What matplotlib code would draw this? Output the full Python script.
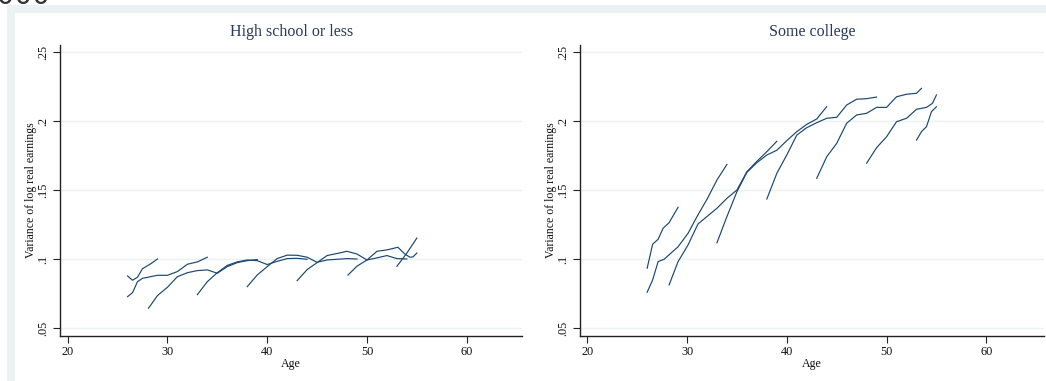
import matplotlib
matplotlib.use("Agg")
import matplotlib.pyplot as plt
from matplotlib.patches import Rectangle
from matplotlib.ticker import FixedLocator, FixedFormatter

# --- High school or less: one line per cohort (age, variance of log earnings)
HS_AGE_1 = [26, 26.5, 27, 27.5, 28.25, 29]
HS_VAR_1 = [0.0879, 0.0848, 0.0870, 0.0932, 0.0964, 0.1002]
HS_AGE_2 = [26, 26.5, 27, 27.5, 29, 30, 31, 32, 33, 34]
HS_VAR_2 = [0.0729, 0.0758, 0.0838, 0.0862, 0.0884, 0.0884, 0.0911, 0.0964, 0.0981, 0.1015]
HS_AGE_3 = [28.1, 29, 30, 31, 32, 33, 34, 35, 36, 37, 38, 39]
HS_VAR_3 = [0.0645, 0.0737, 0.0797, 0.0874, 0.0903, 0.0918, 0.0923, 0.0899, 0.0947, 0.0976, 0.0990, 0.0998]
HS_AGE_4 = [33, 34, 35, 36, 37, 38, 39, 40, 41, 42, 43, 44]
HS_VAR_4 = [0.0744, 0.0838, 0.0903, 0.0956, 0.0981, 0.0995, 0.0990, 0.0962, 0.0985, 0.1005, 0.1007, 0.1000]
HS_AGE_5 = [38, 39, 40, 41, 42, 43, 44, 45, 46, 47, 48, 49]
HS_VAR_5 = [0.0802, 0.0886, 0.0947, 0.1005, 0.1030, 0.1029, 0.1015, 0.0978, 0.0995, 0.1000, 0.1005, 0.1002]
HS_AGE_6 = [43, 44, 45, 46, 47, 48, 49, 50, 51, 52, 53.1, 53.8, 54.3, 54.6, 55]
HS_VAR_6 = [0.0845, 0.0925, 0.0976, 0.1027, 0.1042, 0.1058, 0.1038, 0.0995, 0.1058, 0.1068, 0.1087, 0.1038, 0.1015, 0.1017, 0.1045]
HS_AGE_7 = [48.1, 49, 50, 51, 52, 53, 54]
HS_VAR_7 = [0.0886, 0.0950, 0.0995, 0.1010, 0.1027, 0.1005, 0.1002]
HS_AGE_8 = [53, 54, 55]
HS_VAR_8 = [0.0949, 0.1045, 0.1154]

# --- Some college
SC_AGE_1 = [26, 26.55, 27.1, 27.6, 28.2, 29.1]
SC_VAR_1 = [0.0935, 0.1109, 0.1145, 0.1225, 0.1265, 0.1377]
SC_AGE_2 = [26, 26.55, 27.1, 27.7, 29.1, 30.1, 31, 32, 33, 34]
SC_VAR_2 = [0.0761, 0.0850, 0.0983, 0.1000, 0.1091, 0.1188, 0.1310, 0.1435, 0.1575, 0.1688]
SC_AGE_3 = [28.2, 29.1, 30.1, 31.1, 32, 33, 34, 35, 36, 37, 38, 39]
SC_VAR_3 = [0.0814, 0.0983, 0.1104, 0.1256, 0.1310, 0.1370, 0.1442, 0.1502, 0.1635, 0.1710, 0.1780, 0.1855]
SC_AGE_4 = [33, 34, 35, 36, 37, 38, 39, 40, 41, 42, 43, 44]
SC_VAR_4 = [0.1120, 0.1310, 0.1490, 0.1630, 0.1700, 0.1756, 0.1790, 0.1860, 0.1925, 0.1978, 0.2017, 0.2106]
SC_AGE_5 = [38, 39, 40, 41, 42, 43, 44, 45, 46, 47, 48, 49]
SC_VAR_5 = [0.1437, 0.1623, 0.1756, 0.1900, 0.1954, 0.1990, 0.2022, 0.2029, 0.2118, 0.2160, 0.2164, 0.2176]
SC_AGE_6 = [43, 44, 45, 46, 47, 48, 49, 50, 51, 52, 53, 53.5]
SC_VAR_6 = [0.1587, 0.1743, 0.1840, 0.1986, 0.2046, 0.2058, 0.2101, 0.2101, 0.2178, 0.2196, 0.2203, 0.2239]
SC_AGE_7 = [48, 49, 50, 51, 52, 53, 54, 54.6, 55]
SC_VAR_7 = [0.1696, 0.1809, 0.1888, 0.1997, 0.2022, 0.2087, 0.2101, 0.2130, 0.2191]
SC_AGE_8 = [53, 53.5, 54, 54.5, 55]
SC_VAR_8 = [0.1864, 0.1925, 0.1961, 0.2070, 0.2106]

PANEL_TITLES = ["High school or less", "Some college"]
X_TICKS = [20, 30, 40, 50, 60]
Y_TICKS = [0.05, 0.10, 0.15, 0.20, 0.25]
Y_TICK_LABELS = [".05", ".1", ".15", ".2", ".25"]

HS_COHORTS = [(HS_AGE_1, HS_VAR_1), (HS_AGE_2, HS_VAR_2), (HS_AGE_3, HS_VAR_3), (HS_AGE_4, HS_VAR_4),
              (HS_AGE_5, HS_VAR_5), (HS_AGE_6, HS_VAR_6), (HS_AGE_7, HS_VAR_7), (HS_AGE_8, HS_VAR_8)]
SC_COHORTS = [(SC_AGE_1, SC_VAR_1), (SC_AGE_2, SC_VAR_2), (SC_AGE_3, SC_VAR_3), (SC_AGE_4, SC_VAR_4),
              (SC_AGE_5, SC_VAR_5), (SC_AGE_6, SC_VAR_6), (SC_AGE_7, SC_VAR_7), (SC_AGE_8, SC_VAR_8)]

LINE_COLOR = "#1a476f"
BG_COLOR = "#eaf2f3"
TITLE_COLOR = "#2a3a5c"
W, H = 1046, 381

plt.rcParams['font.family'] = ['Liberation Serif', 'DejaVu Serif']

fig = plt.figure(figsize=(W / 100, H / 100), dpi=100)
fig.patch.set_facecolor("white")

# stata-style outer frame: light band, white plot region inside
fig.patches.append(Rectangle((7 / W, 0), 1, 1 - 5 / H, transform=fig.transFigure,
                             facecolor=BG_COLOR, edgecolor="none", zorder=-2))
fig.patches.append(Rectangle((15 / W, 0), 1, 1 - 13 / H, transform=fig.transFigure,
                             facecolor="white", edgecolor="none", zorder=-1))
# leftover of the heading above, cut off at the top as in the source image
fig.text(50 / W, 1 - 4 / H, "2000", ha="right", va="baseline", fontsize=20,
         family="DejaVu Sans", color="#333333")

panels = [
    (60, 522, (19.23, 65.54), HS_COHORTS, 292),
    (580, 1044, (19.27, 65.78), SC_COHORTS, 812),
]

for (x0, x1, xlim, cohorts, title_x), title in zip(panels, PANEL_TITLES):
    ax = fig.add_axes([x0 / W, 1 - 336 / H, (x1 - x0) / W, (336 - 45) / H])
    ax.set_facecolor("none")
    for age, var in cohorts:
        ax.plot(age, var, color=LINE_COLOR, lw=0.85, solid_joinstyle="miter")
    ax.set_xlim(*xlim)
    ax.set_ylim(0.0444, 0.2553)
    ax.xaxis.set_major_locator(FixedLocator(X_TICKS))
    ax.yaxis.set_major_locator(FixedLocator(Y_TICKS))
    ax.yaxis.set_major_formatter(FixedFormatter(Y_TICK_LABELS))
    for lab in ax.get_yticklabels():
        lab.set_rotation(90)
        lab.set_va("center")
    ax.grid(axis="y", color=BG_COLOR, lw=1.0)
    ax.set_axisbelow(True)
    for side in ("top", "right"):
        ax.spines[side].set_visible(False)
    for side in ("left", "bottom"):
        ax.spines[side].set_color("#222222")
        ax.spines[side].set_linewidth(1.0)
    ax.tick_params(axis="both", direction="out", length=5, width=0.8, color="#222222",
                   labelsize=8.8, labelcolor="#111111", pad=2.5)
    ax.set_xlabel("Age", fontsize=8.6, labelpad=0, color="#111111")
    ax.set_ylabel("Variance of log real earnings", fontsize=8.5, color="#111111")
    ax.yaxis.set_label_coords(-23 / (x1 - x0), 0.5)
    fig.text(title_x / W, 1 - 32 / H, title, ha="center", va="center", fontsize=11.5,
             color=TITLE_COLOR)

fig.savefig("out.png", dpi=100, facecolor=fig.get_facecolor())
